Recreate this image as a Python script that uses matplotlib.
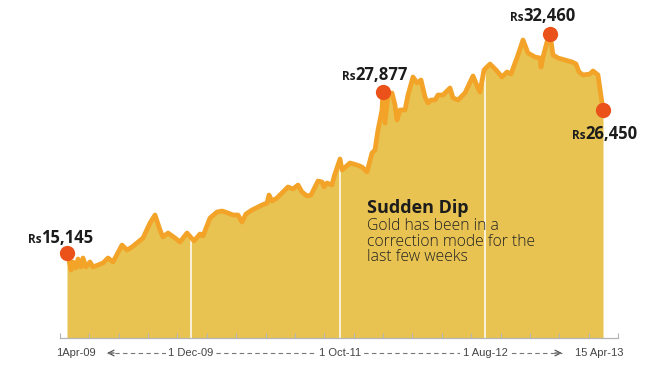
import matplotlib
matplotlib.use('Agg')
import matplotlib.pyplot as plt
import matplotlib.transforms as mtransforms
import numpy as np

# position along the timeline (uneven scale, as in the original) and gold price, Rs/10g
pos = [0, 1, 4, 6, 9, 11, 14, 16, 19, 23, 26, 36, 41, 46, 55, 60, 65, 76, 83, 88,
       93, 96, 101, 108, 113, 120, 127, 133, 136, 143, 150, 155, 161, 166, 171, 175, 179, 185, 195, 200,
       202, 205, 210, 221, 226, 231, 235, 240, 244, 251, 255, 257, 260, 265, 267, 273, 275, 283, 290, 295,
       300, 305, 308, 311, 315, 316, 318, 321, 325, 328, 330, 333, 338, 341, 346, 350, 354, 358, 361, 364,
       368, 371, 376, 383, 386, 391, 398, 406, 411, 413, 417, 423, 429, 435, 440, 444, 451, 456, 461, 468,
       473, 474, 476, 480, 483, 486, 491, 505, 509, 512, 516, 523, 526, 531, 536]
price = [15145, 14990, 13800, 14435, 13960, 14670, 14040, 14750, 14040, 14435, 14040, 14355, 14750, 14435, 15775, 15380, 15620, 16330, 17515, 18150,
         16965, 16410, 16725, 16330, 16015, 16725, 16095, 16645, 16490, 17910, 18385, 18465, 18305, 18150, 18150, 17595, 18230, 18545, 18940, 19100,
         19730, 19255, 19495, 20365, 20205, 20520, 19970, 19650, 19730, 20835, 20760, 20365, 20680, 20520, 21155, 22575, 21705, 22260, 22100, 21945,
         21550, 23050, 23290, 24870, 26450, 27877, 25425, 27635, 27795, 26845, 25660, 26450, 26450, 27635, 29060, 28585, 28820, 27480, 27005, 27240,
         27240, 27635, 27635, 28190, 27405, 27240, 27795, 29140, 28190, 27875, 29615, 30085, 29615, 29060, 29455, 29295, 30800, 31985, 30955, 30640,
         30560, 29850, 30640, 31825, 32460, 30800, 30560, 30245, 30085, 29455, 29220, 29295, 29535, 29220, 26450]

date_labels = ['1Apr-09', '1 Dec-09', '1 Oct-11', '1 Aug-12', '15 Apr-13']
date_pos = [9, 124, 273, 418, 532]

highlight_pos = [0, 316, 483, 536]
highlight_text = ['15,145', '27,877', '32,460', '26,450']

title = 'Sudden Dip'
note = 'Gold has been in a\ncorrection mode for the\nlast few weeks'

FILL = '#E8C351'
LINE = '#F2A328'
DOT = '#EA5219'
W, H = 650, 369
BASE = 8425
PX = 79.06  # rupees per pixel on the vertical scale

fig = plt.figure(figsize=(W / 100, H / 100), dpi=100)
ax = fig.add_axes([0, 0, 1, 1])
ax.set_xlim(-67, 583)
ax.set_ylim(5975, 35145)
ax.axis('off')

ax.fill_between(pos, BASE, price, color=FILL, lw=0, zorder=1)
wl = date_pos[1:4]
ax.vlines(wl, BASE, np.interp(wl, pos, price), color='white', lw=1.1, zorder=2)
ax.plot(pos, price, color=LINE, lw=3.4, solid_joinstyle='round', solid_capstyle='round', zorder=3)

# baseline with small upward ticks
ax.plot([-7, 551], [BASE, BASE], color='#b5b5b5', lw=0.9, zorder=4)
ax.vlines(np.linspace(-7, 551, 20), BASE, BASE + 5 * PX, color='#b5b5b5', lw=0.8, zorder=4)

hp = np.interp(highlight_pos, pos, price)
ax.plot(highlight_pos, hp, 'o', ms=11, color=DOT, mec='none', zorder=5)

renderer = fig.canvas.get_renderer()
BOLD = ['Open Sans', 'DejaVu Sans']


def price_label(x_px, y_px, amount):
    t = fig.text(x_px / W, 1 - y_px / H, 'Rs', fontsize=8.5, fontweight='bold',
                 family=BOLD, va='baseline', ha='left', color='#1c1c1c')
    bb = t.get_window_extent(renderer)
    fig.text((bb.x1 - 0.5) / W, 1 - y_px / H, amount, fontsize=12, fontweight='bold',
             family=BOLD, va='baseline', ha='left', color='#1c1c1c')


label_xy = [(28, 243), (342, 80), (510, 21), (572, 139)]
for (lx, ly), txt in zip(label_xy, highlight_text):
    price_label(lx, ly, txt)

fig.text(367 / W, 1 - 213 / H, title, fontsize=13, fontweight='bold', family=BOLD,
         va='baseline', color='#1c1c1c')
fig.text(367 / W, 1 - 218 / H, note, fontsize=11.3, family=['Open Sans', 'DejaVu Sans'],
         fontweight='light', va='top', color='#222222', linespacing=0.97)

# bottom date scale
yb = 1 - 353 / H
trans = mtransforms.blended_transform_factory(ax.transData, ax.transAxes)
ax.plot([40, 495], [yb, yb], transform=trans, color='#777777', lw=0.8,
        dashes=(4, 3), zorder=4)
for p, lab in zip(date_pos, date_labels):
    ax.text(p, yb, lab, transform=trans, ha='center', va='center', fontsize=8,
            family=['Liberation Sans', 'DejaVu Sans'], color='#444444', zorder=6,
            bbox=dict(boxstyle='square,pad=0.25', fc='white', ec='none'))
ax.annotate('', xy=(40, yb), xytext=(47, yb), xycoords=trans, textcoords=trans,
            arrowprops=dict(arrowstyle='->', color='#555555', lw=0.9, shrinkA=0, shrinkB=0))
ax.annotate('', xy=(495, yb), xytext=(488, yb), xycoords=trans, textcoords=trans,
            arrowprops=dict(arrowstyle='->', color='#555555', lw=0.9, shrinkA=0, shrinkB=0))

fig.savefig('out.png', dpi=100, facecolor='white')
